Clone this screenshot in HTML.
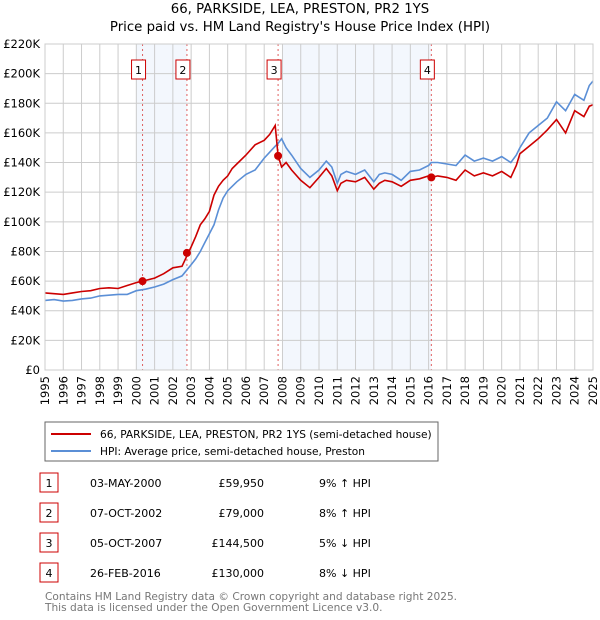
<!DOCTYPE html>
<html><head><meta charset="utf-8"><style>
body{margin:0;background:#fff;font-family:"DejaVu Sans","Liberation Sans",sans-serif;}
#wrap{position:relative;width:600px;height:620px;overflow:hidden;}
svg text{font-family:"DejaVu Sans","Liberation Sans",sans-serif;}
</style></head><body><div id="wrap">
<svg id="chart" width="600" height="620">
<text x="300" y="13" text-anchor="middle" font-size="13.3">66, PARKSIDE, LEA, PRESTON, PR2 1YS</text>
<text x="300" y="31" text-anchor="middle" font-size="13.3">Price paid vs. HM Land Registry's House Price Index (HPI)</text>
<g id="grid"></g><g id="marks"></g><g id="axes"></g>
<rect x="45" y="422" width="393" height="39" fill="#fff" stroke="#666"/>
<line x1="51" y1="434" x2="91" y2="434" stroke="#cc0000" stroke-width="2"/>
<text x="100" y="438" font-size="10.6">66, PARKSIDE, LEA, PRESTON, PR2 1YS (semi-detached house)</text>
<line x1="51" y1="451" x2="91" y2="451" stroke="#5b8fd6" stroke-width="2"/>
<text x="100" y="455" font-size="10.6">HPI: Average price, semi-detached house, Preston</text>
<g id="table" font-size="11"></g>
<text x="45" y="600" font-size="10.6" fill="#777">Contains HM Land Registry data © Crown copyright and database right 2025.</text>
<text x="45" y="611" font-size="10.6" fill="#777">This data is licensed under the Open Government Licence v3.0.</text>
</svg></div>
<script>
const years=[1995,1995.5,1996,1996.5,1997,1997.5,1998,1998.5,1999,1999.5,2000,2000.5,2001,2001.5,2002,2002.5,2003,2003.25,2003.5,2003.75,2004,2004.25,2004.5,2004.75,2005,2005.25,2005.5,2006,2006.5,2007,2007.3,2007.6,2007.76,2007.95,2008.2,2008.5,2009,2009.5,2010,2010.4,2010.7,2011,2011.2,2011.5,2012,2012.5,2013,2013.3,2013.6,2014,2014.5,2015,2015.5,2016,2016.15,2016.5,2017,2017.5,2018,2018.5,2019,2019.5,2020,2020.5,2020.8,2021,2021.5,2022,2022.5,2023,2023.5,2024,2024.5,2024.8,2025];
const hpi=[47,47.5,46.5,47,48,48.5,50,50.5,51,51,53.5,54.5,56,58,61,63.5,71,75,80,86,92,98,108,116,121,124,127,132,135,143,147,151,153,156,150,145,136,130,135,141,137,126,132,134,132,135,127,132,133,132,128,134,135,138,140,140,139,138,145,141,143,141,144,140,145,150,160,165,170,181,175,186,182,192,195];
const price=[52,51.5,51,52,53,53.5,55,55.5,55,57,59,60.5,62,65,69,70,83,90,98,102,107,118,124,128,131,136,139,145,152,155,159,165,144.5,137,140,135,128,123,130,136,131,121,126,128,127,130,122,126,128,127,124,128,129,131,130,131,130,128,135,131,133,131,134,130,138,146,151,156,162,169,160,175,171,178,179];
const sales=[2000.34,2002.77,2007.76,2016.15];
const salePrices=[59.95,79,144.5,130];
const saleDates=["03-MAY-2000","07-OCT-2002","05-OCT-2007","26-FEB-2016"];
const salePriceLabels=["£59,950","£79,000","£144,500","£130,000"];
const saleHpi=["9% ↑ HPI","8% ↑ HPI","5% ↓ HPI","8% ↓ HPI"];
const yTicks=[0,20,40,60,80,100,120,140,160,180,200,220];
const xTicks=[1995,1996,1997,1998,1999,2000,2001,2002,2003,2004,2005,2006,2007,2008,2009,2010,2011,2012,2013,2014,2015,2016,2017,2018,2019,2020,2021,2022,2023,2024,2025];
const NS="http://www.w3.org/2000/svg";
const X=y=>45+(y-1995)*(548/30), Y=v=>370-v*(326/220);
function mk(parent,tag,attrs){const e=document.createElementNS(NS,tag);for(const k in attrs)e.setAttribute(k,attrs[k]);document.getElementById(parent).appendChild(e);return e;}
let s=mk('grid','rect',{x:X(2000),y:44,width:X(sales[1])-X(2000),height:326,fill:'#eef3fc',opacity:0.7});


s=mk('grid','rect',{x:X(2008),y:44,width:X(sales[3])-X(2008),height:326,fill:'#eef3fc',opacity:0.7});


yTicks.forEach(v=>{
 const l=mk('grid','line',{x1:45,x2:593,y1:Y(v),y2:Y(v),stroke:'#ccc'});
 
 
 const t=mk('axes','text',{x:40,y:Y(v)+4,'text-anchor':'end','font-size':'11.5'});
 t.textContent=v===0?'£0':'£'+v+'K';
 
 
});
xTicks.forEach(yr=>{
 const l=mk('grid','line',{x1:X(yr),x2:X(yr),y1:44,y2:370,stroke:'#ccc'});
 
 
 const t=mk('axes','text',{x:0,y:0,'font-size':'11.5','text-anchor':'end',transform:`translate(${X(yr)+4},376) rotate(-90)`});
 t.textContent=yr;
 
 
});
sales.forEach((d,i)=>{
 const l=mk('marks','line',{x1:X(d),x2:X(d),y1:44,y2:370,stroke:'#e06060','stroke-dasharray':'2,3'});
 
 
 const r=mk('marks','rect',{x:X(d)-11,y:60,width:14,height:19,fill:'#fff',stroke:'#cc0000'});
 
 
 const t=mk('marks','text',{x:X(d)-4,y:74,'text-anchor':'middle','font-size':'11'});
 t.textContent=i+1;
 
 
});
const pts=a=>years.map((y,i)=>X(y).toFixed(1)+','+Y(a[i]).toFixed(1)).join(' ');
let p=mk('marks','polyline',{points:pts(hpi),fill:'none',stroke:'#5b8fd6','stroke-width':1.6});


p=mk('marks','polyline',{points:pts(price),fill:'none',stroke:'#cc0000','stroke-width':1.6});


sales.forEach((d,i)=>{
 const c=mk('marks','circle',{cx:X(d),cy:Y(salePrices[i]),r:4,fill:'#cc0000'});
 
 
});
const ax=mk('axes','rect',{x:45,y:44,width:548,height:326,fill:'none',stroke:'#ccc'});


saleDates.forEach((d,i)=>{
 const y=483+i*30;
 const b=mk('table','rect',{x:40,y:y-10,width:18,height:19,fill:'#fff',stroke:'#cc0000'});
 
 
 const cells=[[49,'middle',String(i+1),'table-number'],[90,'start',d,'table-date'],[264,'end',salePriceLabels[i],'table-price'],[319,'start',saleHpi[i],'table-hpi-diff']];
 cells.forEach(c=>{
  const t=mk('table','text',{x:c[0],y:y+4,'text-anchor':c[1]});
  t.textContent=c[2];
  
  
 });
});
</script></body></html>
